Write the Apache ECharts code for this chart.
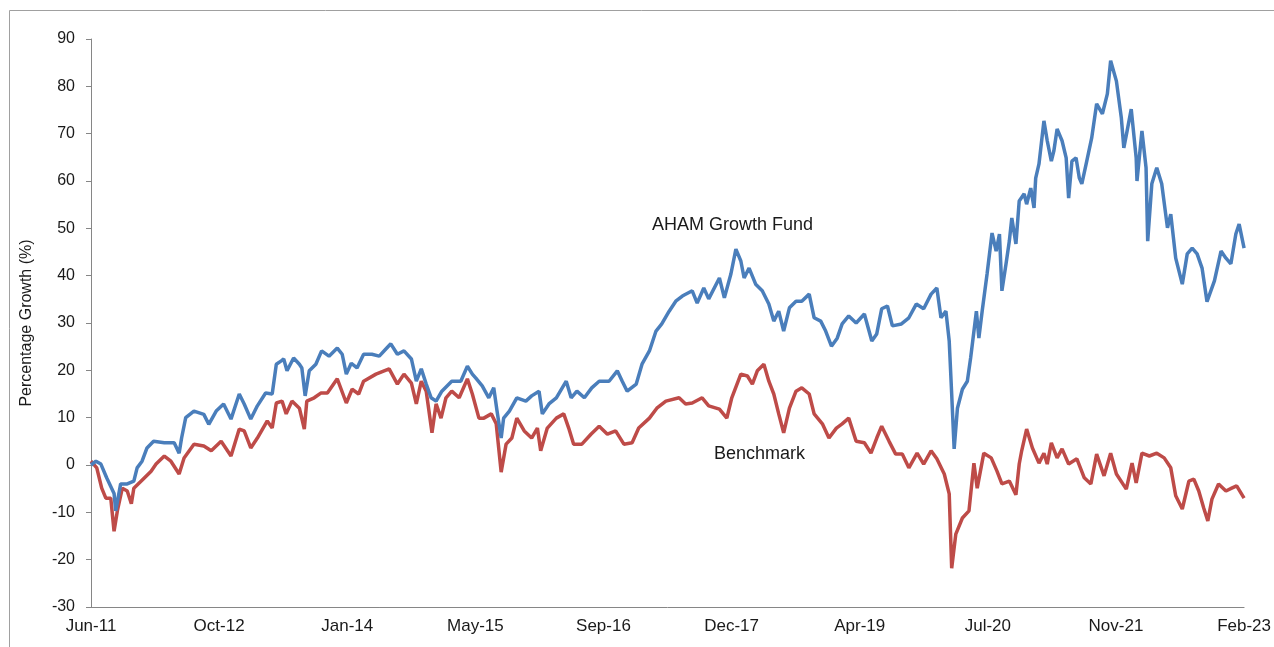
<!DOCTYPE html>
<html>
<head>
<meta charset="utf-8">
<script src="https://cdn.jsdelivr.net/npm/echarts@6/dist/echarts.min.js"></script>
<style>
html,body{margin:0;padding:0;background:#fff;}
#chart{width:1274px;height:647px;}
</style>
</head>
<body>
<div id="chart"></div>
<script>
// x values: months since Jun-2011
var tickLabels = ['Jun-11','Oct-12','Jan-14','May-15','Sep-16','Dec-17','Apr-19','Jul-20','Nov-21','Feb-23'];
var totalMonths = 140;

var fundX = [0,0.6,1.2,1.9,2.8,3.0,3.6,4.4,5.2,5.6,6.2,6.8,7.6,8.9,10.1,10.7,11.0,11.5,12.5,13.7,14.3,15.2,16.1,17.0,18.0,18.6,19.4,20.2,21.2,22.0,22.5,23.1,23.4,23.8,24.6,25.3,25.6,26.0,26.5,27.3,28.0,28.9,29.9,30.5,31.0,31.6,32.3,33.1,34.1,35.0,35.8,36.4,37.2,38.0,38.9,39.5,40.1,40.7,41.3,41.9,42.6,43.8,44.9,45.7,46.3,46.7,47.5,48.3,48.9,49.3,49.8,50.1,50.8,51.7,52.8,53.5,54.4,54.8,55.6,56.5,57.7,58.3,59.0,59.9,60.8,61.7,62.9,63.9,64.5,65.1,66.2,66.9,67.8,68.6,69.3,70.2,71.0,71.8,73.0,73.6,74.4,75.0,76.3,76.9,77.7,78.3,78.9,79.3,79.9,80.7,81.5,82.3,82.9,83.5,84.1,84.8,85.6,86.3,87.2,87.8,88.6,89.2,89.9,90.6,91.2,92.0,92.9,93.9,94.8,95.4,96.0,96.7,97.3,98.4,99.3,100.2,101.1,102.0,102.7,103.2,103.8,104.2,104.5,104.8,105.2,105.8,106.4,106.8,107.5,107.8,108.2,108.8,109.4,109.9,110.3,110.6,111.1,111.5,111.8,112.3,112.7,113.3,113.6,114.1,114.5,114.7,115.1,115.7,116.1,116.6,116.9,117.3,117.9,118.4,118.7,119.1,119.6,120.0,120.3,120.9,121.5,122.1,122.8,123.4,123.8,124.5,125.1,125.4,125.8,126.3,126.9,127.0,127.6,128.1,128.3,128.8,129.4,130.0,130.7,131.1,131.7,132.5,133.1,133.7,134.3,134.9,135.5,136.4,137.2,137.8,138.4,139.0,139.4,140.0];
var fundY = [0,0.8,0.2,-2.7,-6,-9.7,-4,-4,-3.4,-0.6,0.8,3.6,5,4.7,4.7,2.5,5.7,10,11.4,10.7,8.6,11.4,12.9,9.7,15,12.9,9.7,12.5,15.2,15,21.3,22,22.4,19.9,22.6,21.3,20.5,14.6,19.9,21.3,24.1,23,24.7,23.4,19.2,21.5,20.5,23.4,23.4,23,24.5,25.6,23.4,24.1,22.4,17.7,20.3,17.1,14.2,13.5,15.6,17.7,17.7,20.9,19.2,18.4,16.7,14.2,16.3,11.4,5.7,9.9,11.4,14.2,13.5,14.6,15.6,10.8,12.9,14.2,17.7,14.2,15.6,14.2,16.3,17.7,17.7,19.9,17.7,15.6,17.1,21.3,24.1,28.3,29.8,32.5,34.6,35.7,36.8,34.2,37.4,35.1,39.5,35.3,40.4,45.6,43.1,39.5,41.6,38.2,36.8,34,30.4,32.5,28.3,33.2,34.6,34.6,36.1,31.1,30.4,28.3,25.1,26.8,29.8,31.5,30,31.9,26.2,27.7,33,33.6,29.4,29.8,31.1,34,33,36.1,37.4,31.1,32.5,26.2,15,3.4,12,16,17.7,22.6,32.5,26.8,32.5,40.4,49,45.2,48.8,36.8,42.5,47.3,52.2,46.7,55.8,57.3,55.1,58.5,54.3,60.6,63.6,72.7,68.5,64.2,66.3,71,68.5,64.9,56.4,64.2,64.9,60.6,59.4,64.2,69.1,76.3,74.2,78.4,85.4,81.1,73.3,67,70.6,75.2,64.9,60,70.6,62.8,47.3,59.4,62.8,59.4,50.1,53,43.7,38.2,44.6,45.8,44.6,41.6,34.5,38.9,45.2,43.7,42.5,48.8,50.9,45.8];

var benchX = [0,0.7,1.3,1.8,2.4,2.8,3.2,3.8,4.4,4.9,5.2,6.1,7.3,7.9,8.9,9.7,10.7,11.3,12.5,13.7,14.6,15.8,17.0,18.0,18.6,19.4,20.2,21.4,22.0,22.5,23.2,23.7,24.4,25.3,25.9,26.2,27.1,27.9,28.7,29.9,31.0,31.7,32.5,33.1,34.6,36.2,37.2,38.0,38.9,39.5,40.1,40.7,41.4,41.9,42.5,43.1,43.8,44.7,45.7,46.3,47.1,47.7,48.6,49.2,49.8,50.4,51.1,51.7,52.6,53.5,54.2,54.6,55.4,56.5,57.4,58.0,58.6,59.6,60.7,61.7,62.7,63.7,64.7,65.7,66.5,67.8,68.7,69.8,71.4,72.2,73.0,74.2,75.0,76.3,77.2,77.8,78.9,79.7,80.3,80.9,81.7,82.3,82.9,83.5,84.1,84.8,85.6,86.3,87.2,87.8,88.8,89.6,90.5,91.2,92.0,92.9,93.9,94.7,95.4,96.0,96.9,97.7,98.5,99.3,100.3,101.1,102.0,102.7,103.6,104.2,104.5,105.0,105.8,106.6,107.2,107.6,108.4,109.3,110.0,110.6,111.5,112.3,112.7,113.0,113.6,114.3,115.1,115.7,116.1,116.6,117.3,117.9,118.7,119.7,120.6,121.4,122.1,123.0,123.8,124.5,125.7,126.4,126.9,127.6,128.5,129.4,130.3,131.1,131.7,132.5,133.3,133.9,134.5,135.1,135.6,136.1,136.9,137.8,138.5,139.1,140.0];
var benchY = [0.8,-0.6,-4.9,-7,-7,-14,-9.7,-4.9,-5.5,-8.2,-4.9,-3.4,-1.3,0.2,1.9,0.8,-1.9,1.5,4.4,4,3,5,1.9,7.6,7.2,3.6,5.7,9.3,7.8,13.1,13.5,10.8,13.5,12,7.6,13.5,14.2,15.2,15.2,18.2,13.1,16,15,17.7,19.2,20.3,17.1,19.2,17.3,12.9,17.7,15.6,6.8,12.9,9.9,14.2,15.6,14.2,18.2,15,9.9,9.9,10.8,8.7,-1.5,4.4,5.7,9.9,7.2,5.7,7.8,3,7.8,9.9,10.8,7.8,4.4,4.4,6.5,8.2,6.5,7.2,4.4,4.7,7.8,9.9,12,13.5,14.2,12.9,13.1,14.2,12.5,11.8,9.9,14.2,19.2,18.8,17.1,19.9,21.3,17.7,15,10.8,6.8,12,15.6,16.3,15,10.8,8.7,5.7,7.8,8.7,9.9,5,4.7,2.5,5.7,8.2,5,2.3,2.3,-0.6,2.5,0.2,3,1.3,-1.9,-6.1,-21.8,-14.6,-11.2,-9.7,0.4,-4.9,2.5,1.5,-1.3,-4,-3.4,-6.3,0.2,3,7.6,3.6,0.4,2.5,0.2,4.7,1.5,3.4,0.2,1.3,-2.7,-4,2.3,-2.3,2.5,-1.9,-5.1,0.4,-3.8,2.5,1.9,2.5,1.5,-0.6,-6.5,-9.3,-3.4,-3,-5.5,-9.1,-11.8,-7.2,-4,-5.5,-4.9,-4.4,-7];

function pairs(xs, ys){ return xs.map(function(x,i){ return [x, ys[i]]; }); }

var chart = echarts.init(document.getElementById('chart'), null, {renderer:'canvas'});
var step = totalMonths / (tickLabels.length - 1);
var FONT = 'Liberation Sans, Arial, sans-serif';
var option = {
  animation:false,
  backgroundColor:'#fff',
  grid:{left:91, right:29, top:39, bottom:40, containLabel:false},
  xAxis:{
    type:'value', min:0, max:totalMonths, interval:step,
    axisLine:{show:true, onZero:false, lineStyle:{color:'#868686', width:1}},
    axisTick:{show:false},
    splitLine:{show:false},
    axisLabel:{
      color:'#1a1a1a', fontFamily:FONT, fontSize:17, margin:11,
      showMinLabel:true, showMaxLabel:true,
      formatter:function(v){ var k=Math.round(v/step); return tickLabels[k]||''; }
    }
  },
  yAxis:{
    type:'value', min:-30, max:90, interval:10,
    name:'Percentage Growth (%)', nameLocation:'middle', nameGap:56, nameRotate:90,
    nameTextStyle:{color:'#1a1a1a', fontSize:16, fontFamily:FONT},
    axisLine:{show:true, onZero:false, lineStyle:{color:'#868686', width:1}},
    axisTick:{show:true, inside:false, length:5, lineStyle:{color:'#868686'}},
    splitLine:{show:false},
    axisLabel:{color:'#1a1a1a', fontSize:16, fontFamily:FONT, margin:16}
  },
  series:[
    {name:'AHAM Growth Fund', type:'line', data:pairs(fundX, fundY), showSymbol:false, symbol:'none',
     lineStyle:{color:'#4a7ebb', width:3.5}, z:3},
    {name:'Benchmark', type:'line', data:pairs(benchX, benchY), showSymbol:false, symbol:'none',
     lineStyle:{color:'#be4b48', width:3.5}, z:2}
  ],
  graphic:[
    {type:'line', shape:{x1:9.5, y1:10.5, x2:1274, y2:10.5}, style:{stroke:'#a0a0a0', lineWidth:1}, silent:true},
    {type:'line', shape:{x1:9.5, y1:10.5, x2:9.5, y2:647}, style:{stroke:'#a0a0a0', lineWidth:1}, silent:true},
    {type:'text', left:652, top:216, style:{text:'AHAM Growth Fund', fill:'#1a1a1a', font:'18px "Liberation Sans", Arial'}},
    {type:'text', left:714, top:445, style:{text:'Benchmark', fill:'#1a1a1a', font:'18px "Liberation Sans", Arial'}}
  ]
};
chart.setOption(option);
</script>
</body>
</html>
